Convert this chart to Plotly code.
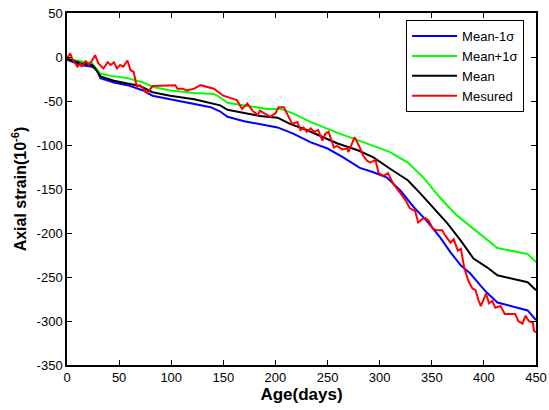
import plotly.graph_objects as go

# ---- data ----
mean_x = [0, 13, 24, 27, 32, 45, 58, 70, 82, 99, 122, 138, 147, 154, 185, 202, 214, 230, 259, 279,
          294, 310, 327, 339, 352, 365, 378, 390, 403, 413, 442, 450]
mean_y = [-2, -7, -9, -13, -22, -27, -30, -33, -40, -44, -48, -52, -55, -60, -67, -69, -76, -83, -98, -106,
          -114, -127, -140, -155, -172, -189, -209, -229, -239, -248, -256, -265]

plus_x = [0, 13, 24, 32, 45, 58, 73, 83, 99, 122, 141, 147, 154, 192, 205, 217, 234, 259, 279, 294,
          310, 327, 342, 358, 374, 390, 406, 413, 442, 450]
plus_y = [-2, -5, -7, -19, -22, -24, -29, -34, -38, -41, -42, -46, -52, -59, -59, -64, -74, -86, -95, -101,
          -108, -120, -137, -160, -180, -195, -211, -217, -224, -233]

minus_x = [0, 13, 24, 29, 32, 45, 58, 73, 82, 99, 122, 138, 147, 154, 170, 202, 217, 234, 250, 265,
           281, 294, 307, 320, 333, 345, 358, 368, 378, 387, 397, 403, 413, 442, 450]
minus_y = [-3, -9, -11, -15, -24, -29, -32, -38, -44, -48, -54, -57, -62, -68, -73, -80, -87, -97, -104, -114,
           -126, -131, -137, -152, -171, -186, -205, -222, -237, -246, -260, -268, -279, -288, -299]

meas_x = [0, 3, 5, 10, 13, 14, 18, 21, 24, 27, 30, 35, 39, 42, 45, 48, 51, 54, 58, 61, 64, 67, 70, 73, 77,
          82, 99, 104, 106, 111, 115, 122, 128, 134, 141, 150, 157, 163, 168, 173, 178, 183, 185, 189, 195,
          200, 203, 208, 213, 216, 221, 224, 227, 230, 234, 237, 241, 245, 248, 251, 256, 259, 264, 269, 270,
          276, 281, 284, 288, 291, 296, 299, 304, 308, 313, 318, 322, 325, 329, 334, 337, 341, 344, 347, 351,
          355, 360, 363, 368, 371, 375, 378, 381, 385, 389, 392, 395, 397, 400, 402, 405, 408, 411, 416, 420,
          425, 430, 433, 437, 440, 443, 447, 448, 450]
meas_y = [-2, 4, -2, -11, -7, -11, -5, -9, -4, 2, -7, -13, -6, -9, -6, -13, -9, -11, -4, -15, -17, -34, -32, -36, -41,
          -33, -32, -32, -36, -36, -38, -36, -32, -34, -36, -44, -47, -49, -59, -53, -61, -66, -61, -64, -68,
          -64, -57, -57, -70, -76, -74, -83, -80, -85, -81, -85, -83, -95, -87, -85, -103, -101, -105, -104, -108,
          -91, -103, -112, -118, -120, -117, -132, -135, -132, -144, -152, -158, -163, -172, -175, -188, -184, -183, -186, -195,
          -197, -197, -203, -211, -207, -220, -218, -239, -254, -263, -265, -277, -283, -275, -269, -280, -277, -285, -283, -292,
          -292, -292, -300, -303, -294, -300, -302, -311, -313]

x_ticks = [0, 50, 100, 150, 200, 250, 300, 350, 400, 450]
y_ticks = [50, 0, -50, -100, -150, -200, -250, -300, -350]

FONT = "Liberation Sans, Arial, Helvetica, sans-serif"

fig = go.Figure()
fig.add_trace(go.Scatter(x=minus_x, y=minus_y, mode="lines", name="Mean-1σ",
                         line=dict(color="#0000ff", width=2)))
fig.add_trace(go.Scatter(x=plus_x, y=plus_y, mode="lines", name="Mean+1σ",
                         line=dict(color="#00ff00", width=2)))
fig.add_trace(go.Scatter(x=mean_x, y=mean_y, mode="lines", name="Mean",
                         line=dict(color="#000000", width=2)))
fig.add_trace(go.Scatter(x=meas_x, y=meas_y, mode="lines", name="Mesured",
                         line=dict(color="#ff0000", width=2)))

axis_common = dict(showgrid=False, zeroline=False, showline=True, linecolor="black", linewidth=1.5,
                   mirror="ticks", ticks="inside", ticklen=5, tickwidth=1, tickcolor="black",
                   automargin=False,
                   tickfont=dict(family=FONT, size=13, color="black"))

fig.update_xaxes(range=[0, 450], tickvals=x_ticks, ticktext=[str(v) for v in x_ticks],
                 title=dict(text="<b>Age(days)</b>", font=dict(family=FONT, size=17, color="black"), standoff=4),
                 **axis_common)
fig.update_yaxes(range=[-350, 50], tickvals=y_ticks, ticktext=[str(v) for v in y_ticks],
                 title=dict(text="<b>Axial strain(10<sup>-6</sup>)</b>", font=dict(family=FONT, size=16, color="black"), standoff=6),
                 **axis_common)

fig.update_layout(
    width=549, height=410,
    margin=dict(l=67, r=13, t=13, b=45),
    paper_bgcolor="white", plot_bgcolor="white",
    font=dict(family=FONT, color="black"),
    legend=dict(x=0.723, y=0.98, xanchor="left", yanchor="top",
                bgcolor="white", bordercolor="black", borderwidth=1,
                font=dict(family=FONT, size=13, color="black"),
                itemwidth=45, tracegroupgap=0),
)

fig.write_html("out.html", config={"displayModeBar": False},
               post_script="document.body.style.margin='0';")
